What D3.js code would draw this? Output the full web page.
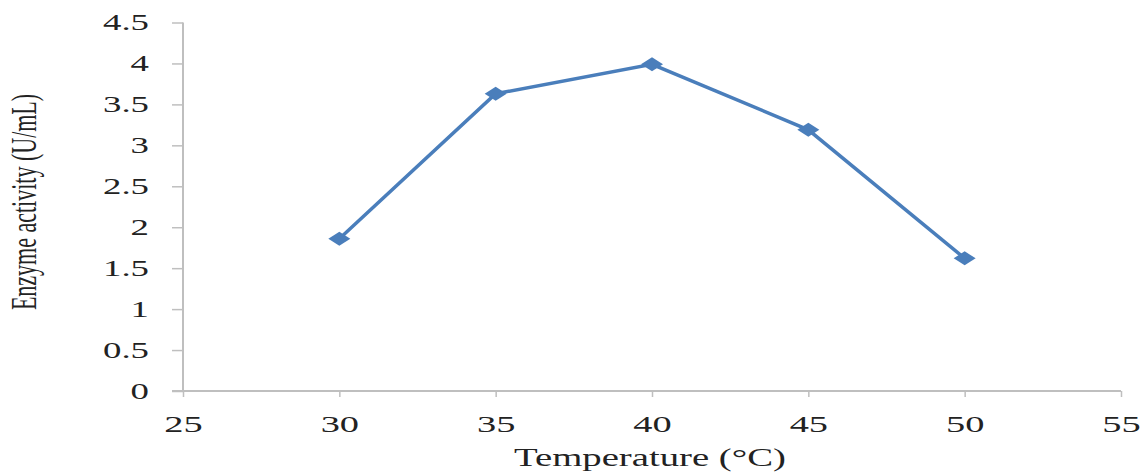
<!DOCTYPE html>
<html>
<head>
<meta charset="utf-8">
<script src="https://cdn.jsdelivr.net/npm/d3@7"></script>
<style>
  body { margin: 0; background: #fff; }
  text { font-family: "Liberation Serif", "Times New Roman", serif; fill: #222; }
</style>
</head>
<body>
<div id="chart-area"></div>
<script>
// data
let temperature = [30, 35, 40, 45, 50];
let activity = [1.86, 3.63, 3.99, 3.19, 1.62];
let xTicks = [25, 30, 35, 40, 45, 50, 55];
let yTicks = [0, 0.5, 1, 1.5, 2, 2.5, 3, 3.5, 4, 4.5];

let width = 1141, height = 473;
let margin = {top: 22.5, right: 20, bottom: 82, left: 183};

// text in the reference is stretched sideways
let stretch = 1.6;

let svg = d3.select("#chart-area").append("svg")
    .attr("width", width)
    .attr("height", height);

let x = d3.scaleLinear()
    .domain([25, 55])
    .range([margin.left, 1121]);

let y = d3.scaleLinear()
    .domain([0, 4.5])
    .range([height - margin.bottom, margin.top]);

// y axis
let yAxis = svg.append("g")
    .attr("transform", "translate(" + margin.left + ",0)")
    .call(d3.axisLeft(y).tickValues(yTicks).tickSize(11).tickPadding(0)
        .tickFormat(d => d));
yAxis.select(".domain").attr("stroke", "#bfbfbf").attr("stroke-width", 2)
    .attr("d", "M0," + y(4.5) + "V" + y(0));
yAxis.selectAll(".tick line").attr("stroke", "#bfbfbf").attr("stroke-width", 1.5);
yAxis.selectAll(".tick text")
    .attr("x", 0)
    .attr("font-size", 23)
    .attr("font-family", null)
    .attr("fill", "#222")
    .attr("transform", "translate(-34,0) scale(" + stretch + ",1)");

// x axis
let xAxis = svg.append("g")
    .attr("transform", "translate(0," + y(0) + ")")
    .call(d3.axisBottom(x).tickValues(xTicks).tickSize(6).tickPadding(0)
        .tickFormat(d => d));
xAxis.select(".domain").attr("stroke", "#bfbfbf").attr("stroke-width", 2)
    .attr("d", "M" + (x(25) - 11) + ",0H" + x(55));
xAxis.selectAll(".tick line").attr("stroke", "#bfbfbf").attr("stroke-width", 1.5);
xAxis.selectAll(".tick text")
    .attr("y", 0)
    .attr("dy", null)
    .attr("font-size", 24)
    .attr("font-family", null)
    .attr("fill", "#222")
    .attr("transform", "translate(0,41) scale(" + stretch + ",1)");

// axis titles
svg.append("text")
    .attr("text-anchor", "middle")
    .attr("font-size", 25)
    .attr("transform", "translate(650,466) scale(1.55,1)")
    .text("Temperature (°C)");

svg.append("text")
    .attr("text-anchor", "middle")
    .attr("font-size", 22)
    .attr("transform", "translate(36,202) rotate(-90) scale(1," + stretch + ")")
    .text("Enzyme activity (U/mL)");

// line
let line = d3.line()
    .x((d, i) => x(temperature[i]))
    .y(d => y(d));

svg.append("path")
    .datum(activity)
    .attr("fill", "none")
    .attr("stroke", "#4a7ebb")
    .attr("stroke-width", 3.5)
    .attr("d", line);

// diamond markers, wide like the reference
svg.selectAll(".marker")
    .data(activity)
    .enter().append("path")
    .attr("class", "marker")
    .attr("fill", "#4a7ebb")
    .attr("transform", (d, i) => "translate(" + x(temperature[i]) + "," + y(d) + ")")
    .attr("d", "M-11,0L0,-7L11,0L0,7Z");
</script>
</body>
</html>
